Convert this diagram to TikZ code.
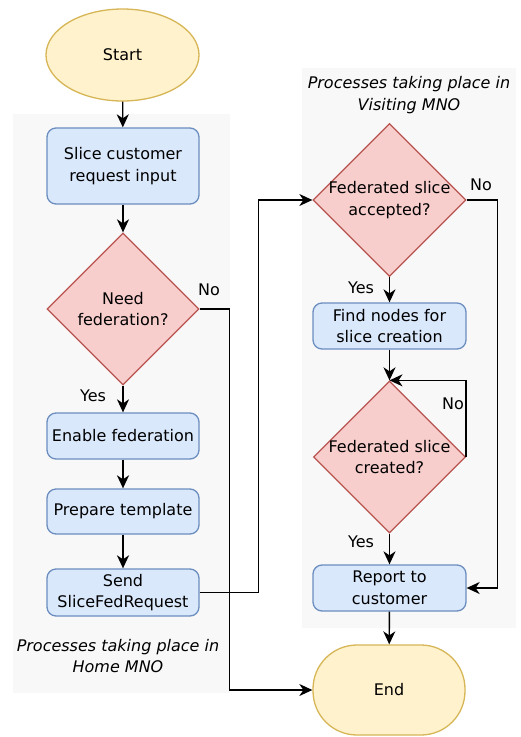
\documentclass[tikz,border=0pt]{standalone}
\usepackage{fontspec}
\setmainfont{DejaVu Sans}
\usetikzlibrary{shapes.geometric,arrows.meta}

\definecolor{termfill}{HTML}{FFF2CC}
\definecolor{termline}{HTML}{D6B656}
\definecolor{procfill}{HTML}{DAE8FC}
\definecolor{procline}{HTML}{6C8EBF}
\definecolor{decfill}{HTML}{F8CECC}
\definecolor{decline}{HTML}{B85450}
\definecolor{lanefill}{HTML}{F8F8F8}

\tikzset{
  every node/.style={font=\fontsize{16}{21.5}\selectfont, align=center},
  terminal/.style={draw=termline, fill=termfill, line width=1.3pt, inner sep=0pt},
  process/.style={rectangle, rounded corners=9pt, draw=procline, fill=procfill,
    line width=1.3pt, minimum width=152pt, minimum height=46pt, inner sep=0pt},
  decision/.style={diamond, aspect=1, draw=decline, fill=decfill, line width=1.3pt,
    minimum size=152pt, inner sep=0pt},
  flow/.style={line width=1.4pt, -{Stealth[length=13pt,width=12pt,inset=4pt]}},
  heavyflow/.style={flow, line width=2.2pt},
  lanetext/.style={font=\fontsize{16}{21.5}\selectfont\itshape},
}

\begin{document}
\begin{tikzpicture}
\useasboundingbox (0pt,0pt) rectangle (520pt,-737pt);

% swimlane backgrounds
\fill[lanefill] (13pt,-114pt) rectangle (230pt,-693pt);
\fill[lanefill] (302pt,-68pt) rectangle (516pt,-628pt);
\node[lanetext] (homelabel) at (118pt,-656pt) {Processes taking place in\\Home MNO};
\node[lanetext] (visitlabel) at (409pt,-95pt) {Processes taking place in\\Visiting MNO};

% home side
\node[terminal, ellipse, minimum width=153pt, minimum height=92pt] (start) at (122.5pt,-55pt) {Start};
\node[process, minimum height=76pt] (input) at (123pt,-166pt) {Slice customer\\request input};
\node[decision, label={[align=center]center:Need\\federation?}] (need) at (123pt,-309pt) {};
\node[process] (enable) at (123pt,-436pt) {Enable federation};
\node[process, minimum height=45pt] (prepare) at (123pt,-511.5pt) {Prepare template};
\node[process, minimum height=47pt] (send) at (123pt,-592.5pt) {Send\\SliceFedRequest};

% visiting side
\node[decision, minimum size=153pt, label={[align=center]center:Federated slice\\accepted?}] (accepted) at (389.5pt,-200pt) {};
\node[process, minimum width=153pt] (find) at (389.5pt,-326pt) {Find nodes for\\slice creation};
\node[decision, label={[align=center]center:Federated slice\\created?}] (created) at (389.5pt,-457pt) {};
\node[process, minimum width=153pt] (report) at (389.5pt,-588pt) {Report to\\customer};
\node[terminal, rectangle, rounded corners=44pt, minimum width=152pt, minimum height=90pt] (end) at (389pt,-690pt) {End};

% connectors
\draw[flow] (start) -- (input);
\draw[flow] (input) -- (need);
\draw[flow] (need) -- (enable);
\draw[heavyflow] (enable) -- (prepare);
\draw[heavyflow] (prepare) -- (send);
\draw[flow] (need.east) -- ++(30pt,0pt) |- (end.west);
\draw[flow] (send.east) -- ++(59pt,0pt) |- (accepted.west);
\draw[flow] (accepted) -- (find);
\draw[flow] (accepted.east) -- ++(31pt,0pt) |- (report.east);
\draw[flow] (find) -- (created);
\draw[flow] (created.east) |- (created.north);
\draw[flow] (created) -- (report);
\draw[flow] (report) -- (end);

% branch labels
\node (needyes) at (93pt,-396pt) {Yes};
\node (needno) at (209pt,-290pt) {No};
\node (accyes) at (361pt,-288pt) {Yes};
\node (accno) at (481pt,-185pt) {No};
\node (creno) at (453pt,-404pt) {No};
\node (creyes) at (361pt,-542pt) {Yes};
\end{tikzpicture}
\end{document}
